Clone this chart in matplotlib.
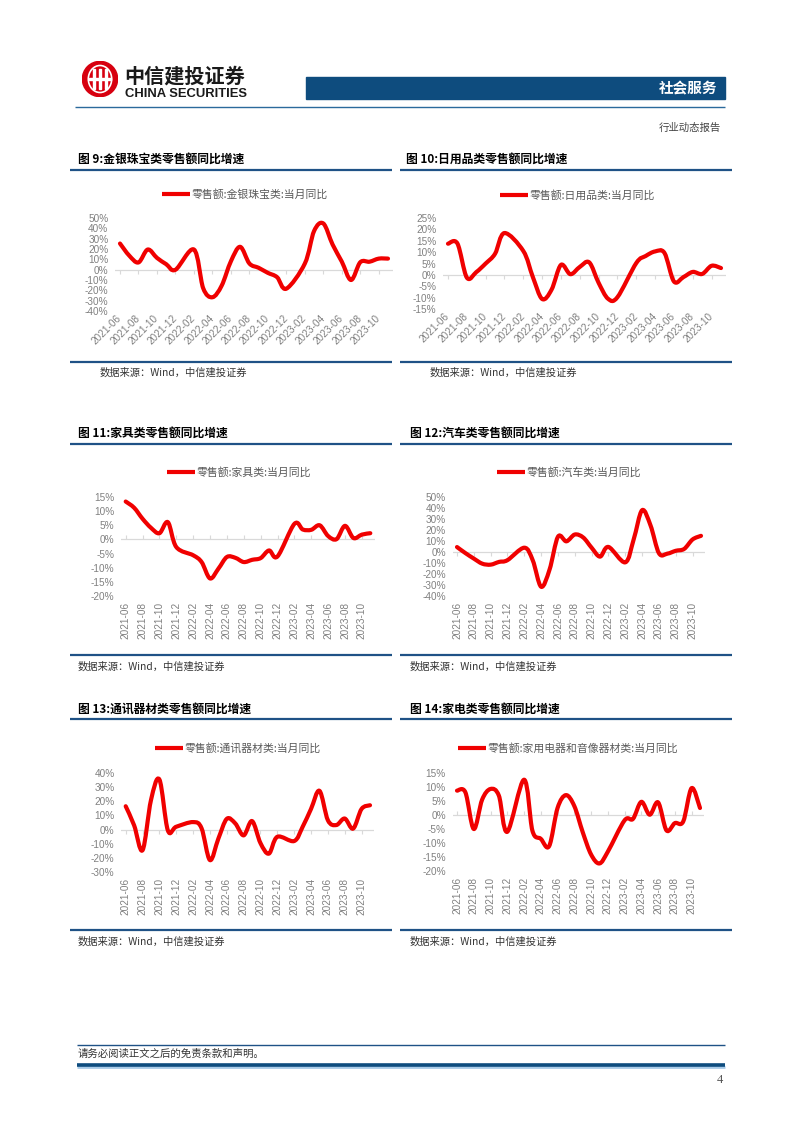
import numpy as np
import matplotlib.pyplot as plt
from matplotlib.path import Path
from matplotlib.patches import PathPatch, Rectangle, Circle, Ellipse
from matplotlib.lines import Line2D
import matplotlib.transforms as mtransforms

plt.rcParams['font.family'] = ['Noto Sans CJK SC', 'DejaVu Sans']

# months 2021-06 .. 2023-11 (January not published -> None)
months = ['2021-06', '2021-07', '2021-08', '2021-09', '2021-10', '2021-11', '2021-12',
          '2022-01', '2022-02', '2022-03', '2022-04', '2022-05', '2022-06', '2022-07',
          '2022-08', '2022-09', '2022-10', '2022-11', '2022-12',
          '2023-01', '2023-02', '2023-03', '2023-04', '2023-05', '2023-06', '2023-07',
          '2023-08', '2023-09', '2023-10', '2023-11']

jewelry = [25.3, 13.6, 7.0, 19.5, 11.4, 5.3, -0.1,
           None, 19.5, -17.9, -26.7, -15.5, 8.1, 22.1, 6.0, 1.8, -3.1, -7.3, -18.4,
           None, 5.9, 37.4, 44.7, 24.4, 7.8, -10.0, 7.2, 7.7, 10.7, 10.7]
daily = [13.7, 13.8, -1.2, 1.2, 5.0, 9.3, 18.4,
         None, 10.5, -0.8, -10.6, -6.5, 4.4, 0.3, 3.5, 5.5, -3.5, -10.5, -9.8,
         None, 5.2, 8.3, 10.3, 9.6, -2.9, -1.0, 1.3, 0.4, 4.0, 3.0]
furniture = [13.4, 11.2, 7.3, 4.1, 2.2, 6.1, -2.7,
             None, -5.6, -8.0, -13.8, -10.3, -6.2, -6.5, -8.0, -7.2, -6.6, -3.9, -6.0,
             None, 5.5, 3.5, 3.4, 5.0, 1.2, 0.1, 4.8, 0.5, 1.7, 2.2]
autos = [4.5, -1.0, -6.0, -10.6, -11.5, -9.0, -7.4,
         None, 3.9, -7.5, -31.6, -16.0, 13.9, 9.7, 15.9, 13.2, 3.9, -4.2, 4.6,
         None, -9.4, 11.5, 38.0, 24.2, -1.1, -1.5, 1.1, 2.8, 11.4, 14.7]
telecom = [16.5, 3.0, -14.6, 20.8, 35.4, -0.5, 2.0,
           None, 5.3, 1.0, -21.6, -6.4, 7.6, 4.4, -4.1, 6.0, -9.6, -17.0, -5.1,
           None, -8.1, 1.9, 14.6, 27.4, 6.6, 3.2, 7.8, 0.7, 14.6, 17.2]
appliance = [8.7, 8.1, -5.0, 5.5, 9.3, 6.9, -6.0,
             None, 12.6, -5.6, -8.5, -11.1, 2.5, 7.1, 3.2, -6.1, -14.1, -17.3, -13.1,
             None, -1.9, -1.4, 4.7, 0.1, 4.5, -5.5, -2.9, -2.3, 9.6, 2.5]

titles = ['图 9:金银珠宝类零售额同比增速', '图 10:日用品类零售额同比增速',
          '图 11:家具类零售额同比增速', '图 12:汽车类零售额同比增速',
          '图 13:通讯器材类零售额同比增速', '图 14:家电类零售额同比增速']
legends = ['零售额:金银珠宝类:当月同比', '零售额:日用品类:当月同比',
           '零售额:家具类:当月同比', '零售额:汽车类:当月同比',
           '零售额:通讯器材类:当月同比', '零售额:家用电器和音像器材类:当月同比']
series = [jewelry, daily, furniture, autos, telecom, appliance]
yranges = [(-40, 50, 10), (-15, 25, 5), (-20, 15, 5), (-40, 50, 10), (-30, 40, 10), (-20, 15, 5)]
source = '数据来源：Wind，中信建投证券'

# page layout in pixels
W, H = 802, 1133
layout = [
    # title_x, title_y, line_x0, line_x1, line_y, leg_x0, leg_y, x_first, x_last, y_top, y_bot, rot, bot_y, src_x, src_y
    (78, 159, 70, 392, 170, 162, 194, 120, 388, 218, 311, 45, 362, 100, 373),
    (406, 159, 400, 732, 170, 500, 195, 448, 721, 218, 309, 45, 362, 430, 373),
    (78, 433, 70, 392, 444, 167, 472, 125.7, 370.3, 497, 596, 90, 655, 78, 667),
    (410, 433, 400, 732, 444, 497, 472, 457, 701, 497, 596, 90, 655, 410, 667),
    (78, 709, 70, 392, 719, 155, 748, 125.7, 370, 773, 872, 90, 930, 78, 942),
    (410, 709, 400, 732, 719, 458, 748, 457, 700, 773, 871, 90, 930, 410, 942),
]

RED = '#F00000'
BLUE = '#1F5286'
GRAY = '#808080'
TICKFONT = ['Liberation Sans', 'DejaVu Sans']


def fx(x):
    return x / W


def fy(y):
    return 1 - y / H


def hline(x0, x1, y, color, lw):
    fig.add_artist(Line2D([fx(x0), fx(x1)], [fy(y), fy(y)], transform=fig.transFigure,
                          color=color, lw=lw, solid_capstyle='butt'))


def smooth_path(xs, ys):
    # Excel-like smoothed line: Catmull-Rom segments as cubic Beziers
    pts = np.column_stack([xs, ys])
    n = len(pts)
    verts = [pts[0]]
    codes = [Path.MOVETO]
    for i in range(n - 1):
        p0 = pts[max(i - 1, 0)]
        p1 = pts[i]
        p2 = pts[i + 1]
        p3 = pts[min(i + 2, n - 1)]
        verts += [p1 + (p2 - p0) / 6, p2 - (p3 - p1) / 6, p2]
        codes += [Path.CURVE4] * 3
    return Path(verts, codes)


fig = plt.figure(figsize=(W / 100, H / 100), dpi=100)

# ---- page header ----
logo = fig.add_axes([fx(82), fy(97), fx(118) - fx(82), fy(61) - fy(97)])
logo.set_xlim(-1, 1)
logo.set_ylim(-1, 1)
logo.axis('off')
logo.add_patch(Circle((0, 0), 0.98, color='#D7000F'))
logo.add_patch(Ellipse((0, 0), 1.3, 1.5, fill=False, ec='white', lw=1.2))
for bx in (-0.35, 0.0, 0.35):
    logo.add_patch(Rectangle((bx - 0.06, -0.55), 0.12, 1.1, color='white'))
logo.add_patch(Rectangle((-0.6, -0.06), 1.2, 0.12, color='white'))

fig.text(fx(124), fy(76), '中信建投证券', fontsize=14.5, fontweight='bold', color='#1A1A1A', va='center')
fig.text(fx(125), fy(94), 'CHINA SECURITIES', fontsize=9.4, fontweight='bold', color='#1A1A1A',
         va='center', family=TICKFONT)
fig.add_artist(Rectangle((fx(306), fy(99)), fx(725) - fx(306), fy(77) - fy(99),
                         transform=fig.transFigure, color='#0E4C7E'))
fig.text(fx(717), fy(88), '社会服务', fontsize=10.5, fontweight='bold', color='white', ha='right', va='center')
hline(75, 725, 107, '#2B6A9C', 1.0)
fig.text(fx(721), fy(128), '行业动态报告', fontsize=7.5, color='#444444', ha='right', va='center')

# ---- charts ----
x_idx = np.arange(len(months))
for k in range(6):
    (tx, ty, lx0, lx1, ly, gx, gy, xf, xl, yt, yb, rot, by, sx, sy) = layout[k]
    ymin, ymax, step = yranges[k]
    vals = series[k]

    fig.text(fx(tx), fy(ty), titles[k], fontsize=8.5, fontweight='bold', color='black', va='center')
    hline(lx0, lx1, ly, BLUE, 1.6)
    fig.add_artist(Line2D([fx(gx), fx(gx + 28)], [fy(gy), fy(gy)], transform=fig.transFigure,
                          color=RED, lw=3, solid_capstyle='butt'))
    fig.text(fx(gx + 30), fy(gy), legends[k], fontsize=7.8, color='#595959', va='center')
    hline(lx0, lx1, by, BLUE, 1.6)
    fig.text(fx(sx), fy(sy), source, fontsize=7.4, color='#333333', va='center')

    dx = (xl - xf) / (len(months) - 1)
    left = xf - 0.5 * dx
    ax = fig.add_axes([fx(left), fy(yb), (dx * len(months)) / W, (yb - yt) / H])
    ax.set_xlim(-0.5, len(months) - 0.5)
    ax.set_ylim(ymin, ymax)
    for s in ax.spines.values():
        s.set_visible(False)
    ax.axhline(0, color='#D9D9D9', lw=0.9, zorder=1)

    # small tick marks on the zero line
    zero_ax = ax.secondary_xaxis((0 - ymin) / (ymax - ymin))
    zero_ax.set_xticks(x_idx[::2])
    zero_ax.set_xticklabels([])
    zero_ax.tick_params(length=3, width=0.8, color='#D9D9D9')
    for s in zero_ax.spines.values():
        s.set_visible(False)

    xs = [x for x, v in zip(x_idx, vals) if v is not None]
    ys = [v for v in vals if v is not None]
    ax.add_patch(PathPatch(smooth_path(xs, ys), fill=False, ec=RED, lw=3,
                           capstyle='round', joinstyle='round', zorder=3))

    yticks = np.arange(ymin, ymax + 1, step)
    ax.set_yticks(yticks)
    ax.set_yticklabels(['{}%'.format(v) for v in yticks], fontsize=7.2,
                       family=TICKFONT, color=GRAY)
    ax.set_xticks(x_idx[::2])
    if rot == 45:
        ax.set_xticklabels(months[::2], rotation=45, ha='right', va='center',
                           rotation_mode='anchor', fontsize=7.2,
                           family=TICKFONT, color=GRAY)
        off = mtransforms.ScaledTranslation(6 / 100, -3 / 100, fig.dpi_scale_trans)
        for lab in ax.get_xticklabels():
            lab.set_transform(lab.get_transform() + off)
    else:
        ax.set_xticklabels(months[::2], rotation=90, ha='center', va='top', fontsize=7.2,
                           family=TICKFONT, color=GRAY)
    ax.tick_params(length=0, pad=4)
    ax.tick_params(axis='y', pad=5)

# ---- page footer ----
hline(77, 725, 1045, BLUE, 1.0)
fig.text(fx(78), fy(1054), '请务必阅读正文之后的免责条款和声明。', fontsize=7.5, color='#333333', va='center')
hline(77, 725, 1067, '#A9CBE8', 2.0)
hline(77, 725, 1065, '#0E4C7E', 2.6)
fig.text(fx(723), fy(1080), '4', fontsize=9, color='#555555', ha='right', va='center',
         family=['Liberation Serif', 'DejaVu Serif'])

fig.savefig('out.png', dpi=100)
